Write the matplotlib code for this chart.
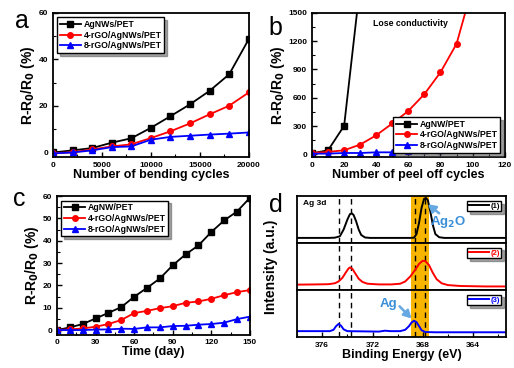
import numpy as np
import matplotlib
matplotlib.use("Agg")
import matplotlib.pyplot as plt
from matplotlib.ticker import MultipleLocator

plt.rcParams['font.family'] = ['Liberation Sans', 'DejaVu Sans']
plt.rcParams['font.weight'] = 'bold'
plt.rcParams['axes.labelweight'] = 'bold'

# --- (a) bending cycles ---
bend_x = [0, 2000, 4000, 6000, 8000, 10000, 12000, 14000, 16000, 18000, 20000]
bend_agnw = [0, 0.9, 1.9, 4.2, 6.1, 10.6, 15.6, 20.7, 26.5, 33.6, 48.7]
bend_4rgo = [-0.3, 0.1, 1.3, 2.6, 3.5, 6.2, 9.1, 12.5, 16.4, 20.1, 25.8]
bend_8rgo = [-0.4, 0.0, 0.9, 2.3, 2.6, 5.5, 6.7, 7.2, 7.7, 8.1, 8.6]

# --- (b) peel off cycles ---
peel_x_agnw = [0, 10, 20, 30]
peel_agnw = [10, 43, 302, 1800]
peel_x = [0, 10, 20, 30, 40, 50, 60, 70, 80, 90, 100]
peel_4rgo = [15, 25, 43, 103, 202, 327, 460, 639, 870, 1172, 1780]
peel_8rgo = [7, 7, 14, 14, 21, 21, 35, 43, 43, 53, 71]

# --- (c) time ---
day_x = [0, 10, 20, 30, 40, 50, 60, 70, 80, 90, 100, 110, 120, 130, 140, 150]
day_agnw = [0, 1.2, 2.7, 5.2, 7.7, 10.3, 14.9, 18.9, 23.1, 29.0, 33.9, 37.9, 43.9, 49.1, 53.1, 59.2]
day_4rgo = [0, 0.3, 0.7, 1.5, 2.7, 4.5, 7.6, 8.6, 9.8, 10.7, 12.2, 12.8, 14.0, 15.6, 17.0, 17.9]
day_8rgo = [0, 0, 0, 0.2, 0.3, 0.6, 0.5, 1.2, 1.2, 1.8, 1.9, 2.4, 2.7, 3.3, 4.9, 6.0]

# --- (d) XPS Ag 3d (intensity in panel units) ---
e1 = [378, 375.5, 375.0, 374.6, 374.3, 374.0, 373.8, 373.65, 373.5, 373.3, 373.1, 372.9,
      372.6, 372.2, 369.0, 368.7, 368.5, 368.3, 368.1, 367.9, 367.75, 367.6, 367.4, 367.2,
      367.0, 366.7, 366.3, 361.4]
i1 = [0.115, 0.115, 0.12, 0.15, 0.3, 0.52, 0.64, 0.66, 0.62, 0.48, 0.3, 0.18,
      0.125, 0.115, 0.115, 0.12, 0.2, 0.45, 0.78, 0.98, 1.0, 0.95, 0.7, 0.4,
      0.2, 0.13, 0.115, 0.115]
e2 = [378, 376.5, 375.5, 375.0, 374.7, 374.4, 374.1, 373.9, 373.8, 373.6, 373.4, 373.1,
      372.8, 372.4, 371.5, 370.5, 369.8, 369.4, 369.0, 368.6, 368.3, 368.0, 367.8, 367.5,
      367.2, 366.9, 366.5, 366.0, 365.0, 363.0, 361.4]
i2 = [0.12, 0.125, 0.13, 0.15, 0.19, 0.27, 0.4, 0.48, 0.5, 0.47, 0.38, 0.25,
      0.18, 0.14, 0.125, 0.125, 0.14, 0.19, 0.3, 0.45, 0.58, 0.65, 0.64, 0.55,
      0.38, 0.24, 0.15, 0.11, 0.09, 0.08, 0.08]
e3 = [378, 375.4, 375.1, 374.9, 374.7, 374.5, 374.3, 374.0, 371.5, 371.0, 370.6, 369.8,
      369.4, 369.1, 368.9, 368.7, 368.5, 368.3, 368.1, 367.8, 367.0, 361.4]
i3 = [0.13, 0.13, 0.16, 0.24, 0.29, 0.25, 0.17, 0.13, 0.12, 0.14, 0.13, 0.13,
      0.16, 0.24, 0.32, 0.36, 0.33, 0.24, 0.15, 0.11, 0.105, 0.105]
dash_e = [374.7, 373.7, 368.66, 367.8]
band_e = (368.94, 367.52)

fig = plt.figure(figsize=(5.14, 3.68), dpi=100)

TICK = 6
LAB = 9
YLAB = 10
LEG = 6.3
BLUE_TXT = '#3a8fd8'
BLUE_ARR = '#66a8e2'


def style(ax):
    ax.tick_params(direction='in', which='both', labelsize=TICK, top=False, right=False)
    ax.tick_params(which='major', length=3.5, width=1)
    ax.tick_params(which='minor', length=2, width=0.8)
    for s in ax.spines.values():
        s.set_linewidth(1.3)


def series(ax, x, y, c, m, lab):
    ax.plot(x, y, color=c, marker=m, markersize=4, linewidth=1.3, label=lab)


def leg(ax, loc):
    l = ax.legend(loc=loc, fontsize=LEG, frameon=True, fancybox=False, shadow=True,
                  edgecolor='black', handlelength=2.4, borderpad=0.3, labelspacing=0.2,
                  handletextpad=0.3)
    l.get_frame().set_linewidth(1.0)


def letter(x, y, s):
    fig.text(x, y, s, fontsize=18, fontweight='normal', va='baseline', ha='left')


# (a)
ax = fig.add_axes([0.103, 0.573, 0.381, 0.392])
series(ax, bend_x, bend_agnw, 'black', 's', 'AgNWs/PET')
series(ax, bend_x, bend_4rgo, 'red', 'o', '4-rGO/AgNWs/PET')
series(ax, bend_x, bend_8rgo, 'blue', '^', '8-rGO/AgNWs/PET')
ax.set_xlim(0, 20000)
ax.set_ylim(-2, 60)
ax.xaxis.set_major_locator(MultipleLocator(5000))
ax.xaxis.set_minor_locator(MultipleLocator(2500))
ax.yaxis.set_major_locator(MultipleLocator(20))
ax.yaxis.set_minor_locator(MultipleLocator(10))
ax.set_xlabel('Number of bending cycles', fontsize=LAB, labelpad=0)
ax.set_ylabel(r'R-R$_\mathbf{0}$/R$_\mathbf{0}$ (%)', fontsize=YLAB, labelpad=1)
style(ax)
leg(ax, 'upper left')
letter(0.029, 0.924, 'a')

# (b)
ax = fig.add_axes([0.607, 0.573, 0.375, 0.392])
series(ax, peel_x_agnw, peel_agnw, 'black', 's', 'AgNW/PET')
series(ax, peel_x, peel_4rgo, 'red', 'o', '4-rGO/AgNWs/PET')
series(ax, peel_x, peel_8rgo, 'blue', '^', '8-rGO/AgNWs/PET')
ax.set_xlim(0, 120)
ax.set_ylim(-30, 1500)
ax.xaxis.set_major_locator(MultipleLocator(20))
ax.xaxis.set_minor_locator(MultipleLocator(10))
ax.yaxis.set_major_locator(MultipleLocator(300))
ax.yaxis.set_minor_locator(MultipleLocator(150))
ax.set_xlabel('Number of peel off cycles', fontsize=LAB, labelpad=0)
ax.set_ylabel(r'R-R$_\mathbf{0}$/R$_\mathbf{0}$ (%)', fontsize=YLAB, labelpad=1)
ax.text(61, 1390, 'Lose conductivity', fontsize=6.3, ha='center', va='center')
style(ax)
leg(ax, 'lower right')
letter(0.523, 0.905, 'b')

# (c)
ax = fig.add_axes([0.111, 0.091, 0.375, 0.376])
series(ax, day_x, day_agnw, 'black', 's', 'AgNW/PET')
series(ax, day_x, day_4rgo, 'red', 'o', '4-rGO/AgNWs/PET')
series(ax, day_x, day_8rgo, 'blue', '^', '8-rGO/AgNWs/PET')
ax.set_xlim(0, 150)
ax.set_ylim(-2, 60)
ax.xaxis.set_major_locator(MultipleLocator(30))
ax.xaxis.set_minor_locator(MultipleLocator(15))
ax.yaxis.set_major_locator(MultipleLocator(10))
ax.yaxis.set_minor_locator(MultipleLocator(5))
ax.set_xlabel('Time (day)', fontsize=LAB, labelpad=0)
ax.set_ylabel(r'R-R$_\mathbf{0}$/R$_\mathbf{0}$ (%)', fontsize=YLAB, labelpad=1)
style(ax)
leg(ax, 'upper left')
letter(0.025, 0.44, 'c')

# (d)
xps = [(e1, i1, 'black', '(1)'), (e2, i2, 'red', '(2)'), (e3, i3, 'blue', '(3)')]
h = (0.467 - 0.0842) / 3
axes_d = []
for k, (e, i, c, lab) in enumerate(xps):
    ax = fig.add_axes([0.578, 0.467 - (k + 1) * h, 0.406, h])
    ax.axvspan(band_e[0], band_e[1], color='#f7b500', lw=0)
    for xd in dash_e:
        ax.axvline(xd, color='black', ls=(0, (4, 3)), lw=1)
    ax.plot(e, i, color=c, lw=1.4, label=lab)
    ax.set_xlim(378, 361.4)
    ax.set_ylim(0, 1.04)
    ax.set_yticks([])
    ax.xaxis.set_major_locator(MultipleLocator(4))
    ax.xaxis.set_minor_locator(MultipleLocator(2))
    style(ax)
    if k < 2:
        ax.tick_params(axis='x', which='both', labelbottom=False, bottom=False)
    l = ax.legend(loc='upper right', fontsize=5.5, frameon=True, fancybox=False, shadow=True,
                  edgecolor='black', handlelength=2.6, borderpad=0.2, handletextpad=0.2,
                  borderaxespad=0.6)
    l.get_texts()[0].set_color(c)
    axes_d.append(ax)

axes_d[0].text(377.5, 0.88, 'Ag 3d', fontsize=6, va='center')
axes_d[0].text(365.95, 0.47, 'Ag$_\\mathbf{2}$O', fontsize=9.5, color=BLUE_TXT,
               ha='center', va='center')
axes_d[0].annotate('', xy=(367.6, 0.86), xytext=(366.7, 0.66),
                   arrowprops=dict(arrowstyle='-|>,head_width=0.25,head_length=0.45',
                                   color=BLUE_ARR, lw=1.8, shrinkA=0, shrinkB=0))
axes_d[2].text(370.7, 0.73, 'Ag', fontsize=9.5, color=BLUE_TXT, ha='center', va='center')
axes_d[2].annotate('', xy=(368.9, 0.41), xytext=(369.85, 0.68),
                   arrowprops=dict(arrowstyle='-|>,head_width=0.25,head_length=0.45',
                                   color=BLUE_ARR, lw=1.8, shrinkA=0, shrinkB=0))
axes_d[2].set_xlabel('Binding Energy (eV)', fontsize=LAB, labelpad=0)
fig.text(0.527, 0.275, 'Intensity (a.u.)', rotation=90, fontsize=YLAB, fontweight='bold',
         ha='center', va='center')
letter(0.523, 0.424, 'd')

fig.savefig('out.png', dpi=100)
